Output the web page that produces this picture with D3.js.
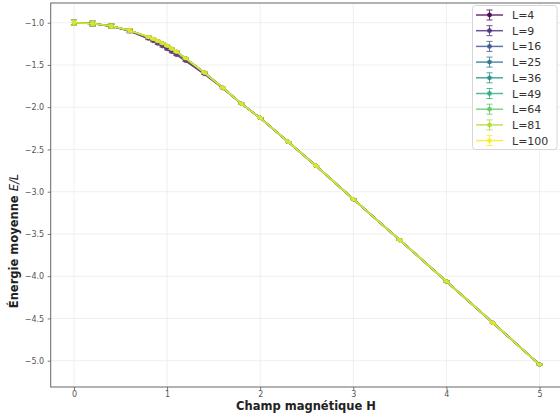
<!DOCTYPE html>
<html>
<head>
<meta charset="utf-8">
<script src="https://cdn.jsdelivr.net/npm/d3@7"></script>
<style>
  html, body { margin: 0; padding: 0; background: #fff; }
  svg { display: block; font-family: "DejaVu Sans", sans-serif; }
</style>
</head>
<body>
<svg id="chart" width="560" height="416"></svg>
<script>
// ---- data ----
const H = [0, 0.2, 0.4, 0.6, 0.8, 0.85, 0.9, 0.95, 1.0, 1.05, 1.1, 1.2, 1.4, 1.6, 1.8, 2.0, 2.3, 2.6, 3.0, 3.5, 4.0, 4.5, 5.0];
const sizes = [4, 9, 16, 25, 36, 49, 64, 81, 100];
const E_L4   = [-1.000,-1.010,-1.043,-1.100,-1.190,-1.218,-1.249,-1.279,-1.313,-1.347,-1.381,-1.453,-1.608,-1.777,-1.962,-2.127,-2.410,-2.695,-3.088,-3.572,-4.062,-4.553,-5.045];
const E_L9   = [-1.000,-1.010,-1.041,-1.095,-1.178,-1.202,-1.229,-1.256,-1.287,-1.320,-1.355,-1.430,-1.594,-1.772,-1.960,-2.127,-2.410,-2.695,-3.088,-3.572,-4.062,-4.553,-5.045];
const E_L16  = [-1.000,-1.010,-1.040,-1.092,-1.173,-1.196,-1.222,-1.249,-1.279,-1.313,-1.348,-1.424,-1.591,-1.771,-1.960,-2.127,-2.410,-2.695,-3.088,-3.572,-4.062,-4.553,-5.045];
const E_L25  = [-1.000,-1.010,-1.040,-1.092,-1.172,-1.194,-1.220,-1.246,-1.276,-1.310,-1.345,-1.422,-1.590,-1.771,-1.960,-2.127,-2.410,-2.695,-3.088,-3.572,-4.062,-4.553,-5.045];
const E_L36  = [-1.000,-1.010,-1.040,-1.092,-1.171,-1.193,-1.218,-1.245,-1.275,-1.308,-1.344,-1.421,-1.590,-1.771,-1.960,-2.127,-2.410,-2.695,-3.088,-3.572,-4.062,-4.553,-5.045];
const E_L49  = [-1.000,-1.010,-1.040,-1.092,-1.171,-1.193,-1.218,-1.244,-1.274,-1.308,-1.344,-1.421,-1.590,-1.771,-1.960,-2.127,-2.410,-2.695,-3.088,-3.572,-4.062,-4.553,-5.045];
const E_L64  = [-1.000,-1.010,-1.040,-1.092,-1.170,-1.192,-1.217,-1.244,-1.274,-1.307,-1.343,-1.421,-1.590,-1.771,-1.960,-2.127,-2.410,-2.695,-3.088,-3.572,-4.062,-4.553,-5.045];
const E_L81  = [-1.000,-1.010,-1.040,-1.092,-1.170,-1.192,-1.217,-1.243,-1.273,-1.307,-1.343,-1.421,-1.590,-1.771,-1.960,-2.127,-2.410,-2.695,-3.088,-3.572,-4.062,-4.553,-5.045];
const E_L100 = [-1.000,-1.010,-1.040,-1.092,-1.170,-1.192,-1.217,-1.243,-1.273,-1.307,-1.343,-1.421,-1.590,-1.771,-1.960,-2.127,-2.410,-2.695,-3.088,-3.572,-4.062,-4.553,-5.045];
const errE   = [0.028,0.026,0.024,0.020,0.010,0.008,0.008,0.008,0.008,0.008,0.008,0.007,0.006,0.005,0.005,0.004,0.004,0.004,0.003,0.003,0.003,0.003,0.003];
const xTicks = [0, 1, 2, 3, 4, 5];
const yTicks = [-1.0, -1.5, -2.0, -2.5, -3.0, -3.5, -4.0, -4.5, -5.0];
const xLabel = "Champ magnétique H";
const yLabelMain = "Énergie moyenne ";
const yLabelMath = "E/L";

const seriesValues = [E_L4, E_L9, E_L16, E_L25, E_L36, E_L49, E_L64, E_L81, E_L100];

// ---- layout ----
const svg = d3.select("#chart");
const pLeft = 50.7, pRight = 562.8, pTop = 3, pBottom = 387;
const x = d3.scaleLinear().domain([-0.25, 5.25]).range([pLeft, pRight]);
const y = d3.scaleLinear().domain([-1, -5]).range([22.7, 360.7]);
const color = i => d3.interpolateViridis(i / (sizes.length - 1));
const fmtY = d => d3.format(".1f")(d).replace("-", "\u2212");

// grid
const grid = svg.append("g").attr("stroke", "#ebebeb").attr("stroke-width", 0.8);
grid.selectAll(".gx").data(xTicks).enter().append("line")
  .attr("x1", d => x(d)).attr("x2", d => x(d)).attr("y1", pTop).attr("y2", pBottom);
grid.selectAll(".gy").data(yTicks).enter().append("line")
  .attr("y1", d => y(d)).attr("y2", d => y(d)).attr("x1", pLeft).attr("x2", pRight);

// axes
const xAxis = svg.append("g").attr("transform", `translate(0,${pBottom})`)
  .call(d3.axisBottom(x).tickValues(xTicks).tickFormat(d3.format("d")).tickSize(3).tickPadding(1.5));
const yAxis = svg.append("g").attr("transform", `translate(${pLeft},0)`)
  .call(d3.axisLeft(y).tickValues(yTicks).tickFormat(fmtY).tickSize(3).tickPadding(3.5));
[xAxis, yAxis].forEach(a => {
  a.select(".domain").remove();
  a.selectAll(".tick line").attr("stroke", "#777");
  a.selectAll(".tick text").attr("fill", "#555").style("font-size", "8px")
   .style("font-family", "DejaVu Sans, sans-serif");
});

// series
const plot = svg.append("g");
seriesValues.forEach((vals, i) => {
  const c = color(i);
  const pts = H.map((h, j) => ({ h, e: vals[j], err: errE[j] }));
  const g = plot.append("g").attr("opacity", 0.75);
  g.append("path").datum(pts)
    .attr("fill", "none").attr("stroke", c).attr("stroke-width", 1.6)
    .attr("d", d3.line().x(d => x(d.h)).y(d => y(d.e)));
  const eb = g.selectAll(".eb").data(pts).enter().append("g").attr("stroke", c).attr("stroke-width", 1);
  eb.append("line").attr("x1", d => x(d.h)).attr("x2", d => x(d.h))
    .attr("y1", d => y(d.e - d.err)).attr("y2", d => y(d.e + d.err));
  eb.append("line").attr("x1", d => x(d.h) - 3).attr("x2", d => x(d.h) + 3)
    .attr("y1", d => y(d.e - d.err)).attr("y2", d => y(d.e - d.err));
  eb.append("line").attr("x1", d => x(d.h) - 3).attr("x2", d => x(d.h) + 3)
    .attr("y1", d => y(d.e + d.err)).attr("y2", d => y(d.e + d.err));
  g.selectAll("circle").data(pts).enter().append("circle")
    .attr("cx", d => x(d.h)).attr("cy", d => y(d.e)).attr("r", 2.1).attr("fill", c);
});

// frame
svg.append("rect").attr("x", pLeft).attr("y", pTop).attr("width", pRight - pLeft).attr("height", pBottom - pTop)
  .attr("fill", "none").attr("stroke", "#666").attr("stroke-width", 1);

// legend
const lg = svg.append("g");
lg.append("rect").attr("x", 472.5).attr("y", 5.5).attr("width", 84.5).attr("height", 144)
  .attr("rx", 3).attr("fill", "white").attr("fill-opacity", 0.85).attr("stroke", "#d6d6d6");
sizes.forEach((L, i) => {
  const yy = 15 + i * 15.7, c = color(i);
  const e = lg.append("g").attr("stroke", c).attr("opacity", 0.8);
  e.append("line").attr("x1", 476).attr("x2", 503).attr("y1", yy).attr("y2", yy).attr("stroke-width", 1.5);
  e.append("line").attr("x1", 489.5).attr("x2", 489.5).attr("y1", yy - 5).attr("y2", yy + 5);
  e.append("line").attr("x1", 486.5).attr("x2", 492.5).attr("y1", yy - 5).attr("y2", yy - 5);
  e.append("line").attr("x1", 486.5).attr("x2", 492.5).attr("y1", yy + 5).attr("y2", yy + 5);
  lg.append("circle").attr("cx", 489.5).attr("cy", yy).attr("r", 2.4).attr("fill", c).attr("opacity", 0.85);
  lg.append("text").attr("x", 512).attr("y", yy + 4).attr("fill", "#333")
    .style("font-size", "11px").text("L=" + L);
});

// axis labels
svg.append("text").attr("x", 306).attr("y", 410).attr("text-anchor", "middle")
  .attr("fill", "#222").style("font-size", "11.5px").style("font-weight", "bold").text(xLabel);
const yl = svg.append("text").attr("transform", "translate(18,241) rotate(-90)")
  .attr("text-anchor", "middle").attr("fill", "#222").style("font-size", "11.5px");
yl.append("tspan").style("font-weight", "bold").text(yLabelMain);
yl.append("tspan").style("font-style", "italic").text(yLabelMath);
</script>
</body>
</html>
